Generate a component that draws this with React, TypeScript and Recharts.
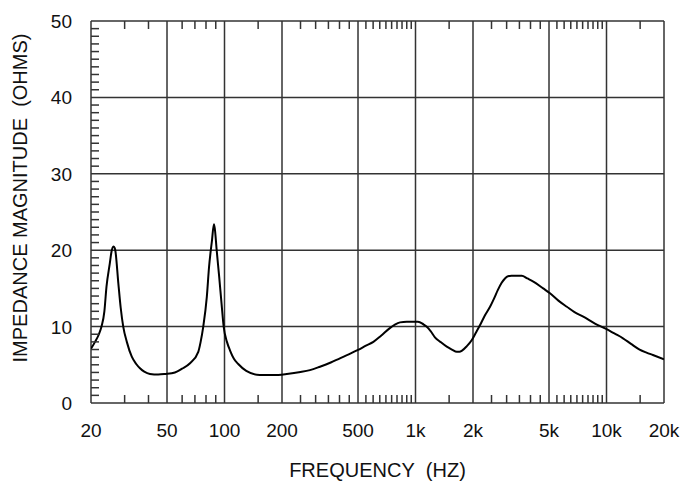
import React from "react";
import { LineChart, Line, XAxis, YAxis, ReferenceLine, Label } from "recharts";

const freqHz = [
  20, 21, 22, 22.7, 23.5, 24.1, 25.1, 25.6, 26.2, 26.6, 26.8, 27.8, 28.6, 29.5, 30.8, 32.7, 34.5, 36.1, 38, 40.7,
  45, 49, 55, 60, 66, 72.9, 75, 77.4, 80.8, 83, 86, 88, 89, 91, 93.8, 96.5, 99, 103, 106.8, 112,
  118, 130, 153, 180, 212, 250, 280, 316, 360, 402, 450, 500, 550, 602, 660, 734, 780, 830, 900, 1030,
  1100, 1142, 1200, 1264, 1350, 1458, 1550, 1646, 1700, 1752, 1850, 1972, 2070, 2178, 2300, 2456, 2580, 2700, 2820, 2940,
  3050, 3180, 3600, 3850, 4140, 4660, 5060, 5600, 6200, 6800, 7560, 8700, 9960, 11000, 12200, 13500, 14900, 16200, 17500, 20000,
];
const impedanceOhms = [
  7.1, 8.0, 9.0, 10.0, 12.0, 15.2, 18.3, 19.8, 20.5, 20.3, 20.0, 15.7, 12.5, 10.0, 8.0, 6.06, 5.1, 4.54, 4.1, 3.8,
  3.72, 3.8, 4.0, 4.5, 5.2, 6.7, 8.0, 10.0, 13.9, 17.8, 21.3, 23.4, 22.8, 20.0, 16.5, 13.0, 10.0, 8.0, 6.9, 5.8,
  5.1, 4.2, 3.66, 3.66, 3.8, 4.05, 4.3, 4.75, 5.3, 5.85, 6.4, 6.95, 7.5, 8.0, 8.8, 9.8, 10.25, 10.55, 10.65, 10.65,
  10.3, 10.0, 9.4, 8.6, 8.0, 7.37, 7.0, 6.7, 6.7, 6.85, 7.4, 8.25, 9.2, 10.2, 11.4, 12.6, 13.7, 14.8, 15.7, 16.3,
  16.6, 16.66, 16.66, 16.3, 15.9, 15.0, 14.36, 13.4, 12.6, 11.9, 11.3, 10.4, 9.7, 9.1, 8.47, 7.7, 7.0, 6.6, 6.28, 5.72,
];

const majorFreqTicks = [20, 50, 100, 200, 500, 1000, 2000, 5000, 10000, 20000];
const majorFreqLabels = ["20", "50", "100", "200", "500", "1k", "2k", "5k", "10k", "20k"];
const minorFreqTicks = [
  30, 40, 60, 70, 80, 90, 150, 250, 300, 350, 400, 450, 550, 600, 650, 700, 750, 800, 850, 900, 950,
  1500, 2500, 3000, 3500, 4000, 4500, 5500, 6000, 6500, 7000, 7500, 8000, 8500, 9000, 9500, 15000,
];
const majorOhmTicks = [0, 10, 20, 30, 40, 50];
const minorOhmTicks = Array.from({ length: 51 }, (_, i) => i);

const data = freqHz.map((f, i) => ({ f, z: impedanceOhms[i] }));
const allFreqTicks = [...majorFreqTicks, ...minorFreqTicks].sort((a, b) => a - b);

const FONT = "'Liberation Sans', Arial, sans-serif";
const INK = "#111";
const GRID = "#333";
const TICK_LEN = 8;

const BottomTick = (props: any) => {
  const { x, y, payload } = props;
  const idx = majorFreqTicks.indexOf(payload.value);
  if (idx >= 0) {
    return (
      <text x={x} y={y + 34} textAnchor="middle" fontFamily={FONT} fontSize={19} fill={INK}>
        {majorFreqLabels[idx]}
      </text>
    );
  }
  return <line x1={x} y1={y} x2={x} y2={y - TICK_LEN} stroke={GRID} strokeWidth={1.5} />;
};

const TopTick = (props: any) => {
  const { x, y } = props;
  return <line x1={x} y1={y} x2={x} y2={y + TICK_LEN} stroke={GRID} strokeWidth={1.5} />;
};

const LeftTick = (props: any) => {
  const { x, y, payload } = props;
  const isMajor = majorOhmTicks.includes(payload.value);
  return (
    <g>
      {!isMajor && <line x1={x} y1={y} x2={x + TICK_LEN} y2={y} stroke={GRID} strokeWidth={1.5} />}
      {isMajor && (
        <text x={x - 19} y={y + 7} textAnchor="end" fontFamily={FONT} fontSize={19} fill={INK}>
          {payload.value}
        </text>
      )}
    </g>
  );
};

const RightTick = (props: any) => {
  const { x, y, payload } = props;
  if (majorOhmTicks.includes(payload.value)) return <g />;
  return <line x1={x} y1={y} x2={x - TICK_LEN} y2={y} stroke={GRID} strokeWidth={1.5} />;
};

export default function App() {
  return (
    <LineChart width={680} height={480} data={data} margin={{ top: 12, right: 23, bottom: 0, left: 0 }}>
      <XAxis
        xAxisId="b"
        dataKey="f"
        type="number"
        scale="log"
        domain={[20, 20000]}
        allowDataOverflow
        ticks={allFreqTicks}
        interval={0}
        tickSize={0}
        tickMargin={0}
        tickLine={false}
        axisLine={false}
        tick={BottomTick}
        height={85}
      >
        <Label
          content={(p: any) => {
            const vb = p.viewBox || {};
            return (
              <text
                x={vb.x + vb.width / 2}
                y={vb.y + 74}
                textAnchor="middle"
                fontFamily={FONT}
                fontSize={20}
                fill={INK}
                style={{ whiteSpace: "pre" }}
              >
                {"FREQUENCY\u00A0\u00A0(HZ)"}
              </text>
            );
          }}
        />
      </XAxis>
      <XAxis
        xAxisId="t"
        orientation="top"
        dataKey="f"
        type="number"
        scale="log"
        domain={[20, 20000]}
        allowDataOverflow
        ticks={minorFreqTicks}
        interval={0}
        tickSize={0}
        tickMargin={0}
        tickLine={false}
        axisLine={false}
        tick={TopTick}
        height={1}
      />
      <YAxis
        yAxisId="l"
        type="number"
        domain={[0, 50]}
        ticks={minorOhmTicks}
        interval={0}
        tickSize={0}
        tickMargin={0}
        tickLine={false}
        axisLine={false}
        tick={LeftTick}
        width={83}
      >
        <Label
          content={(p: any) => {
            const vb = p.viewBox || {};
            const cx = vb.x + 19.3;
            const cy = vb.y + vb.height / 2 - 14;
            return (
              <text
                x={cx}
                y={cy}
                transform={`rotate(-90 ${cx} ${cy})`}
                textAnchor="middle"
                fontFamily={FONT}
                fontSize={20}
                fill={INK}
                style={{ whiteSpace: "pre" }}
              >
                {"IMPEDANCE MAGNITUDE\u00A0\u00A0(OHMS)"}
              </text>
            );
          }}
        />
      </YAxis>
      <YAxis
        yAxisId="r"
        orientation="right"
        type="number"
        domain={[0, 50]}
        ticks={minorOhmTicks}
        interval={0}
        tickSize={0}
        tickMargin={0}
        tickLine={false}
        axisLine={false}
        tick={RightTick}
        width={1}
      />
      {majorFreqTicks.map((v) => (
        <ReferenceLine key={"vx" + v} x={v} xAxisId="b" yAxisId="l" stroke={GRID} strokeWidth={1.5} />
      ))}
      {majorOhmTicks.map((v) => (
        <ReferenceLine key={"hy" + v} y={v} xAxisId="b" yAxisId="l" stroke={GRID} strokeWidth={1.5} />
      ))}
      <Line
        xAxisId="b"
        yAxisId="l"
        dataKey="z"
        type="monotone"
        stroke="#000"
        strokeWidth={2}
        dot={false}
        isAnimationActive={false}
      />
    </LineChart>
  );
}
